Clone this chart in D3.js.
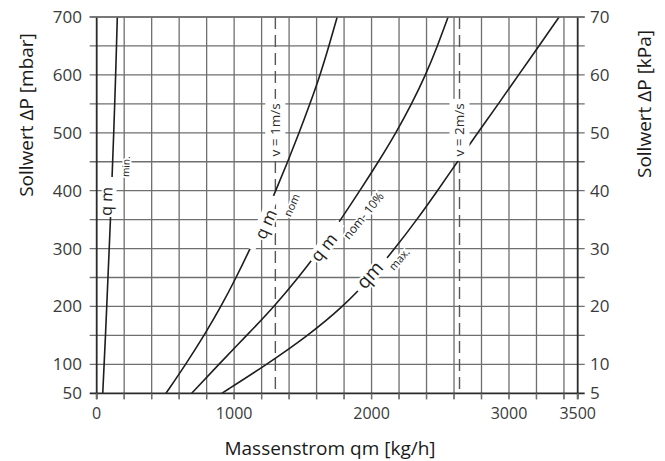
<!DOCTYPE html>
<html><head><meta charset="utf-8">
<script src="https://cdn.jsdelivr.net/npm/d3@7"></script>
<style>
html,body{margin:0;padding:0;background:#fff;}
svg{display:block;font-family:"Open Sans","Noto Sans",sans-serif;}
</style></head>
<body><svg id="chart" width="665" height="461"></svg>
<script>
// ---- data ----
const pressure = [50,100,150,200,250,300,350,400,450,500,550,600,650,700]; // mbar
const qmMin   = [44,54,64,73,82,91,100,108,116,124,131,138,144,150];
const qmNom   = [504,648,782,905,1015,1117,1213,1303,1390,1473,1552,1626,1690,1750];
const qmNom10 = [691,888,1092,1292,1468,1630,1776,1915,2050,2178,2292,2394,2480,2557];
const qmMax   = [910,1240,1540,1795,1995,2170,2330,2480,2625,2773,2923,3070,3218,3365];
const xTickLabels = [0,1000,2000,3000,3500];
const yTickLabels = [50,100,200,300,400,500,600,700];
const kpaTickLabels = [5,10,20,30,40,50,60,70];
const velocityNames = ["v = 1m/s","v = 2m/s"];
const velocityFlows = [1300,2640];

// ---- layout ----
const x = d3.scaleLinear().domain([0,3500]).range([96.7,577.7]);
const y = d3.scaleLinear().domain([50,700]).range([393.3,17]);
const kpa = d3.scaleLinear().domain([5,70]).range([393.3,17]);
const svg = d3.select("#chart");
const gridColor = "#6f6f6f";

// grid
const gx = d3.range(200,3500,200);
const gy = d3.range(100,701,50);
svg.append("g").selectAll("line").data(gx).join("line")
  .attr("x1",d=>x(d)).attr("x2",d=>x(d)).attr("y1",y(700)).attr("y2",y(50)+6)
  .attr("stroke",gridColor).attr("stroke-width",1.3);
svg.append("g").selectAll("line").data(gy).join("line")
  .attr("x1",x(0)-7).attr("x2",x(3500)+7).attr("y1",d=>y(d)).attr("y2",d=>y(d))
  .attr("stroke",gridColor).attr("stroke-width",1.3);

// velocity dashed lines
svg.append("g").selectAll("line").data(velocityFlows).join("line")
  .attr("x1",d=>x(d)).attr("x2",d=>x(d)).attr("y1",y(700)).attr("y2",y(50))
  .attr("stroke","#555").attr("stroke-width",1.4).attr("stroke-dasharray","12,6");

// curves
const series = [qmMin, qmNom, qmNom10, qmMax];
const line = d3.line().x(d=>x(d[0])).y(d=>y(d[1])).curve(d3.curveBasis);
svg.append("g").selectAll("path").data(series).join("path")
  .attr("d",s=>line(s.map((q,i)=>[q,pressure[i]])))
  .attr("fill","none").attr("stroke","#1e1e1e").attr("stroke-width",1.6);

// frame
const frame = svg.append("g").attr("stroke","#2b2b2b").attr("stroke-width",1.8);
frame.append("line").attr("x1",x(0)-7).attr("x2",x(3500)+7).attr("y1",y(50)).attr("y2",y(50));
frame.append("line").attr("x1",x(0)).attr("x2",x(0)).attr("y1",y(700)).attr("y2",y(50)+6);
frame.append("line").attr("x1",x(3500)).attr("x2",x(3500)).attr("y1",y(700)).attr("y2",y(50)+6);
svg.append("line").attr("x1",x(0)-7).attr("x2",x(3500)+7).attr("y1",y(700)).attr("y2",y(700))
  .attr("stroke",gridColor).attr("stroke-width",1.3);

// curve labels (anchored on the curves)
const curveLabels = [
  {s:qmMin,  p:389, rot:0,  gap:20, main:"q m", mfs:16, mAlong:-4.5, mBase:1,   sub:"min.",     sfs:10, sAlong:31, sBase:17},
  {s:qmNom,  p:345, rot:0,  gap:29, main:"q m", mfs:17, mAlong:0,    mBase:10,  sub:"nom",      sfs:11, sAlong:28, sBase:24},
  {s:qmNom10,p:312, rot:4,  gap:24, main:"q m", mfs:17, mAlong:-5.5, mBase:8.2, sub:"nom- 10%", sfs:12, sAlong:44, sBase:17.5},
  {s:qmMax,  p:254.5,rot:0, gap:22, main:"qm",  mfs:19, mAlong:-2.2, mBase:4.1, sub:"max.",     sfs:11, sAlong:29, sBase:13.4}
];
curveLabels.forEach(L=>{
  const qAt = d3.scaleLinear().domain(pressure).range(L.s);
  const q0 = qAt(L.p), q1 = qAt(L.p-15), q2 = qAt(L.p+15);
  const px = x(q0), py = y(L.p);
  const ang = Math.atan2(y(L.p+15)-y(L.p-15), x(q2)-x(q1))*180/Math.PI + L.rot;
  const g = svg.append("g").attr("transform",`translate(${px},${py}) rotate(${ang})`);
  g.append("rect").attr("x",-L.gap).attr("y",-5).attr("width",2*L.gap).attr("height",10).attr("fill","#fff");
  g.append("text").attr("x",L.mAlong).attr("y",L.mBase).attr("text-anchor","middle")
    .attr("font-size",L.mfs).attr("fill","#1e1e1e")
    .attr("stroke","#fff").attr("stroke-width",4).attr("paint-order","stroke").text(L.main);
  g.append("text").attr("x",L.sAlong).attr("y",L.sBase).attr("text-anchor","middle")
    .attr("font-size",L.sfs).attr("fill","#1e1e1e")
    .attr("stroke","#fff").attr("stroke-width",3.5).attr("paint-order","stroke").text(L.sub);
});

// velocity labels
velocityFlows.forEach((q,i)=>{
  const g = svg.append("g").attr("transform",`translate(${x(q)},${y(505)}) rotate(-90)`);
  g.append("rect").attr("x",-31).attr("y",-10).attr("width",62).attr("height",20).attr("fill","#fff");
  g.append("text").attr("x",0).attr("y",4.5).attr("text-anchor","middle")
    .attr("font-size",13.5).attr("fill","#2a2a2a").text(velocityNames[i]);
});

// ticks
svg.append("g").selectAll("line").data([0,...gx,3500]).join("line")
  .attr("x1",d=>x(d)).attr("x2",d=>x(d)).attr("y1",y(50)).attr("y2",y(50)+6)
  .attr("stroke",gridColor).attr("stroke-width",1.3);

// tick labels
const tickColor = "#3a3a3a";
svg.append("g").selectAll("text").data(yTickLabels).join("text")
  .attr("x",82).attr("y",d=>y(d)).attr("dy","0.35em").attr("text-anchor","end")
  .attr("font-size",17).attr("fill",tickColor).text(d=>d);
svg.append("g").selectAll("text").data(kpaTickLabels).join("text")
  .attr("x",590).attr("y",d=>kpa(d)).attr("dy","0.35em").attr("text-anchor","start")
  .attr("font-size",17).attr("fill",tickColor).text(d=>d);
svg.append("g").selectAll("text").data(xTickLabels).join("text")
  .attr("x",d=>x(d)).attr("y",419).attr("text-anchor","middle")
  .attr("font-size",16).attr("fill",tickColor).text(d=>d);

// titles
svg.append("text").attr("transform","translate(33,115) rotate(-90)").attr("text-anchor","middle")
  .attr("font-size",19).attr("fill","#1a1a1a").text("Sollwert ΔP [mbar]");
svg.append("text").attr("transform","translate(651,104) rotate(-90)").attr("text-anchor","middle")
  .attr("font-size",19).attr("fill","#1a1a1a").text("Sollwert ΔP [kPa]");
svg.append("text").attr("x",330).attr("y",455).attr("text-anchor","middle")
  .attr("font-size",19).attr("fill","#1a1a1a").text("Massenstrom qm [kg/h]");
</script>
</body></html>
